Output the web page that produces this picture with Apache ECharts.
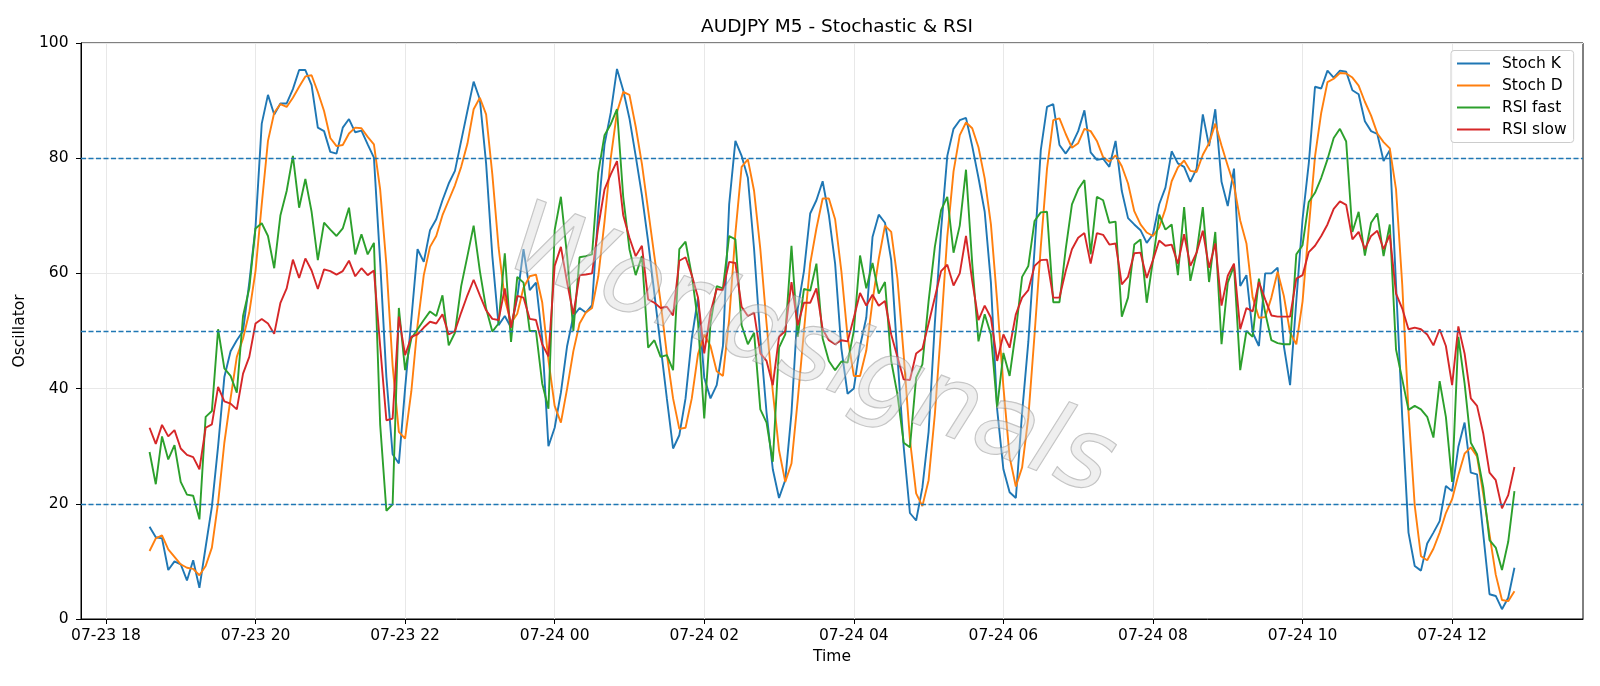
<!DOCTYPE html>
<html>
<head>
<meta charset="utf-8">
<script src="https://cdn.jsdelivr.net/npm/echarts@6/dist/echarts.min.js"></script>
<style>
  html, body { margin: 0; padding: 0; background: #fff; }
  #chart { width: 1600px; height: 686px; }
</style>
</head>
<body>
<div id="chart"></div>
<script>
  // M5 bars from 07-23 18:35 to 07-24 12:50, x in hours since 07-23 00:00
  var startHour = 18 + 35 / 60;
  var stepHour = 5 / 60;
  var tickHours = [18, 20, 22, 24, 26, 28, 30, 32, 34, 36];
  var levels = [80, 50, 20];

  var stochK = [
    16, 14.2, 14, 8.5, 10, 9.5, 6.7, 10.2, 5.4, 12.5, 19.5, 30, 42, 46.5, 48.4, 50, 58.4, 68, 86, 91,
    87.6, 89.5, 89.5, 92, 95.3, 95.3, 92.7, 85.3,
    84.7, 81.1, 80.8, 85.3, 86.8, 84.5, 84.8, 82.4, 80.1, 62, 42, 28.6, 27, 40, 52, 64.2, 62, 67.5, 69.4, 72.7,
    75.6, 77.8, 83, 88.2, 93.3, 90.2, 79.1, 63,
    51, 52.6, 50.6, 55.8, 64.2, 57.1, 58.4, 48.7, 30, 33.2, 39.3, 47.4, 52.6, 54, 53.2, 54.5, 70.7, 82.4, 87.9, 95.5,
    91.8, 86.9, 80.4, 73.6, 65.5, 56.5, 47.4, 38.3,
    29.6, 31.9, 38.3, 48.7, 55.8, 41.9, 38.3, 40.6, 47.4, 72, 83, 80.4, 76.6, 64.2, 48.7, 35.8, 26, 21, 24.1, 35.8,
    53.9, 60.4, 70.4, 72.7, 76, 70.1, 61.7, 47,
    39.1, 40, 47.4, 52.3, 66.3, 70.2, 68.8, 62.3, 45.5, 29.9, 18.4, 17.1, 22.8, 32.5, 51.3, 67.5, 80.4, 85.1, 86.6, 87,
    82.1, 76.6, 70.7, 58.4, 36.4, 26, 22, 21,
    35.8, 48.1, 64.2, 81.4, 88.9, 89.4, 82.3, 80.8, 82.4, 84.7, 88.3, 81, 79.7, 79.9, 78.5, 83, 74.3, 69.6, 68.5, 67.5,
    65.3, 66.8, 72, 74.9, 81.2, 79.1, 78.5, 75.9,
    78.2, 87.6, 82.1, 88.5, 75.9, 71.7, 78.2, 57.8, 59.7, 49.7, 47.4, 60, 60, 61, 47.4, 40.6, 55.2, 69.4, 79.1, 92.4,
    92.1, 95.2, 94, 95.2, 95, 91.8, 91.1, 86.4,
    84.7, 84.2, 79.5, 81.4, 58, 35, 15, 9.2, 8.4, 13.1, 15, 17, 23.1, 22.2, 29.9, 34.1, 25.4, 25.1, 14.7, 4.3,
    4, 1.7, 3.7, 8.9
  ];

  var stochD = [
    11.8, 14, 14.5, 12.1, 10.8, 9.5, 8.9, 8.7, 7.6, 9.2, 12.4, 20.2, 30.6, 38.3, 45.5, 48.7, 53.2, 60.4, 72, 83,
    87.9, 89.4, 88.9, 90.5, 92.4, 94.2, 94.4, 91.5,
    88.2, 83.5, 82.1, 82.3, 84.3, 85.3, 85.2, 83.7, 82.4, 74.6, 61.5, 44, 32.5, 31.3, 39.5, 51, 59.7, 64.6, 66.5, 70.1,
    72.7, 75.3, 78.5, 82.5, 88.5, 90.5, 87.6, 77.2,
    64.5, 55.5, 51.4, 53, 57.5, 59.5, 59.8, 55, 45, 37, 34.1, 40, 46.5, 51.3, 53.2, 54, 59.5, 69, 80, 88,
    91.5, 91, 85.5, 79, 71, 63, 55, 46,
    38.3, 33, 33.2, 38.3, 46, 49.4, 47.4, 43, 42.2, 52, 67, 78.5, 79.8, 74.3, 64.2, 51.3, 39.5, 29.3, 23.8, 27,
    38, 50, 61.7, 67.8, 73, 73, 69.4, 60.4,
    49, 42.2, 42.2, 46.6, 55.2, 62.5, 68.3, 67.2, 59.1, 45.9, 31.2, 21.8, 19.6, 24.1, 35.5, 50.4, 66.4, 77.7, 84, 86.2,
    85.2, 81.9, 76.5, 68.5, 55.2, 40.3, 28.1, 23,
    26.3, 35, 49.4, 64.6, 78.2, 86.6, 86.9, 84.2, 81.8, 82.6, 85.1, 84.7, 83, 80.2, 79.4, 80.5, 78.6, 75.6, 70.8, 68.5,
    67.1, 66.5, 68, 71.2, 76, 78.4, 79.6, 77.8,
    77.6, 80.6, 82.6, 86, 82.2, 78.7, 75.3, 69.2, 65.2, 55.8, 52.3, 52.4, 55.8, 60.3, 56.1, 49.7, 47.7, 55.1, 67.9, 80.3,
    87.9, 93.2, 93.8, 94.8, 94.7, 94, 92.6, 89.8,
    87.4, 84.3, 82.8, 81.7, 74.6, 58, 36, 19.7, 10.9, 10.2, 12.2, 15, 18.4, 20.8, 25, 28.7, 29.8, 28.2, 21.7, 14.7,
    7.7, 3.3, 3.1, 4.8
  ];

  var rsiFast = [
    29, 23.4, 31.7, 27.7, 30.2, 23.8, 21.6, 21.4, 17.3, 35.1, 36.1, 50.3, 43.5, 42.2, 39.3, 52.6, 57.4, 67.8, 68.7, 66.5,
    60.9, 70.1, 74.3, 80.4, 71.4, 76.4, 70.7, 62.3,
    68.8, 67.6, 66.5, 67.8, 71.4, 63.3, 66.8, 63.3, 65.3, 33.8, 18.8, 19.9, 54, 43.2, 48.7, 50.3, 51.9, 53.4, 52.6, 56.2,
    47.5, 49.7, 57.8, 63, 68.3, 60.4, 53.9, 49.9,
    51.3, 63.5, 48.1, 59.4, 58.4, 50, 50, 40.9, 36.5, 67.5, 73.3, 63, 50, 62.8, 63, 63.3, 77.5, 84, 85.9, 88.5,
    73.3, 64.2, 59.7, 63, 47.1, 48.4, 45.5, 45.8,
    43.2, 64.2, 65.5, 59.7, 51.6, 34.8, 51.3, 57.8, 57.4, 66.5, 65.9, 51, 47.7, 49.7, 36.4, 34.1, 27.3, 47.1, 49.4, 64.8,
    49, 57.3, 57, 61.7, 48.7, 44.8, 43.2, 44.7,
    44.5, 50, 63.1, 57.4, 61.8, 56.5, 58.5, 44.8, 39, 30.6, 29.8, 41.9, 44.2, 55.2, 64.6, 71, 73.3, 63.6, 68.3, 78,
    61.7, 48.2, 52.9, 49.4, 36.7, 46.2, 42.2, 50,
    59.4, 61.3, 69.1, 70.6, 70.7, 55, 55, 64.2, 72, 74.6, 76.2, 63.3, 73.3, 72.7, 68.8, 69, 52.5, 55.8, 65, 65.9,
    54.9, 62.3, 70.2, 67.6, 68.5, 59.7, 71.5, 58.7,
    63.6, 71.5, 58.5, 67.2, 47.7, 58.4, 61.3, 43.2, 50, 49, 59.1, 53.2, 48.4, 47.9, 47.7, 47.7, 63.3, 64.9, 72.4, 74,
    76.6, 79.8, 83.5, 85.1, 82.9, 67.2, 70.7, 63.1,
    68.8, 70.4, 63, 68.5, 46.8, 41.6, 36.3, 37, 36.4, 35.1, 31.5, 41.3, 35.1, 23.8, 49, 40.9, 30.6, 28.6, 22.8, 13.7,
    12.4, 8.5, 13.4, 22.2
  ];

  var rsiSlow = [
    33.2, 30.4, 33.7, 31.7, 32.8, 29.6, 28.5, 28.1, 26, 33.2, 33.8, 40.3, 37.8, 37.4, 36.4, 42.6, 45.5, 51.3, 52.1, 51.3,
    49.5, 54.9, 57.4, 62.4, 59.2, 62.6, 60.5, 57.3,
    60.7, 60.4, 59.8, 60.4, 62.2, 59.5, 60.9, 59.7, 60.5, 47.4, 34.5, 34.8, 52.5, 45.8, 49, 49.4, 50.6, 51.6, 51.3, 52.9,
    49.4, 50, 53.2, 56.2, 58.9, 56.2, 53.6, 52.1,
    51.9, 57.4, 50.6, 56.1, 55.8, 52.1, 51.9, 47.7, 45.6, 61.3, 64.6, 58.4, 52.9, 59.7, 59.8, 60, 68.1, 74.6, 77.2, 79.5,
    70.1, 66.2, 63, 64.8, 55.5, 54.9, 54, 54.2,
    52.7, 62.2, 62.8, 59.7, 55.8, 46.1, 53.2, 57.3, 57.1, 62, 61.8, 54.2, 52.6, 53.2, 46.1, 44.8, 40.6, 49, 50, 58.5,
    51, 54.9, 54.9, 57.4, 50.3, 48.4, 47.7, 48.4,
    48.2, 52.3, 56.6, 54.4, 56.3, 54.4, 55.2, 49.4, 45.5, 41.6, 41.5, 46.1, 46.9, 51.3, 55.8, 60.4, 61.5, 57.9, 60, 66.5,
    58.7, 51.9, 54.4, 52.3, 44.8, 49.4, 47.1, 52.9,
    55.8, 57.1, 61.3, 62.3, 62.4, 55.8, 55.8, 60.4, 64.2, 66.2, 67, 61.7, 67, 66.7, 65, 65.2, 58.1, 59.4, 63.5, 63.6,
    59.2, 62.3, 65.7, 64.8, 65, 61.7, 66.8, 61.3,
    63.6, 67.4, 61, 65.2, 54.4, 59.6, 61.7, 50.3, 54, 53.4, 58.5, 55.5, 52.7, 52.5, 52.5, 52.5, 59.1, 59.7, 63.7, 64.8,
    66.5, 68.5, 71.2, 72.5, 71.9, 65.9, 67.2, 64.2,
    66.5, 67.4, 64.2, 66.7, 56.5, 53.9, 50.3, 50.6, 50.3, 49.4, 47.5, 50.3, 47.4, 40.6, 50.8, 46.1, 38.3, 37, 32.2, 25.4,
    24.1, 19.2, 21.5, 26.4
  ];

  var times = stochK.map(function (v, i) { return startHour + i * stepHour; });
  function pairs(arr) {
    return arr.map(function (v, i) { return [times[i], v]; });
  }
  function hourLabel(h) {
    var day = h >= 24 ? '07-24' : '07-23';
    var hh = Math.round(h) % 24;
    return day + ' ' + (hh < 10 ? '0' + hh : '' + hh);
  }

  var font = 'DejaVu Sans';
  var chart = echarts.init(document.getElementById('chart'));

  function lineSeries(name, color, arr) {
    return {
      name: name,
      type: 'line',
      data: pairs(arr),
      showSymbol: false,
      symbol: 'none',
      lineStyle: { color: color, width: 1.9 },
      itemStyle: { color: color },
      z: 3
    };
  }

  var option = {
    backgroundColor: '#fff',
    animation: false,
    textStyle: { fontFamily: font },
    title: {
      text: 'AUDJPY M5 - Stochastic & RSI',
      left: 832,
      textAlign: 'center',
      top: 13,
      textStyle: { fontSize: 18.5, fontWeight: 'normal', color: '#000', fontFamily: font }
    },
    legend: {
      orient: 'vertical',
      left: 1451,
      top: 50.5,
      padding: [5, 7, 5, 6],
      itemGap: 6,
      itemWidth: 33,
      itemHeight: 2,
      icon: 'rect',
      backgroundColor: 'rgba(255,255,255,0.8)',
      borderColor: '#cccccc',
      borderWidth: 1,
      borderRadius: 3,
      textStyle: { fontSize: 15.5, color: '#000', fontFamily: font, lineHeight: 16, padding: [0, 0, 0, 7] },
      data: ['Stoch K', 'Stoch D', 'RSI fast', 'RSI slow']
    },
    grid: {
      left: 81,
      right: 17,
      top: 43,
      bottom: 67,
      show: true,
      borderColor: '#000',
      borderWidth: 1,
      backgroundColor: '#fff'
    },
    xAxis: {
      type: 'value',
      min: 17 + 40 / 60,
      max: 37.75,
      name: 'Time',
      nameLocation: 'middle',
      nameGap: 30,
      nameTextStyle: { fontSize: 15.5, color: '#000', fontFamily: font },
      axisLine: { show: true, lineStyle: { color: '#000', width: 1 } },
      axisTick: { show: true, length: 5, lineStyle: { color: '#000' }, customValues: tickHours },
      axisLabel: {
        customValues: tickHours,
        margin: 9,
        fontSize: 15.5,
        color: '#000',
        fontFamily: font,
        formatter: function (v) { return hourLabel(v); }
      },
      splitLine: { show: true, lineStyle: { color: '#e8e8e8', width: 1 } }
    },
    yAxis: {
      type: 'value',
      min: 0,
      max: 100,
      interval: 20,
      name: 'Oscillator',
      nameLocation: 'middle',
      nameGap: 49,
      nameRotate: 90,
      nameTextStyle: { fontSize: 15.5, color: '#000', fontFamily: font },
      axisLine: { show: true, lineStyle: { color: '#000', width: 1 } },
      axisTick: { show: true, length: 5, lineStyle: { color: '#000' } },
      axisLabel: { margin: 12.5, fontSize: 15.5, color: '#000', fontFamily: font },
      splitLine: { show: true, lineStyle: { color: '#e8e8e8', width: 1 } }
    },
    graphic: [{
      type: 'text',
      x: 810,
      y: 355,
      rotation: -0.37,
      z: 100,
      silent: true,
      style: {
        text: 'Worldsignals',
        x: 0,
        y: 0,
        align: 'center',
        verticalAlign: 'middle',
        font: 'italic 100px "DejaVu Sans"',
        fill: 'rgba(215,215,215,0.4)',
        stroke: 'rgba(120,120,120,0.45)',
        lineWidth: 1.2,
        shadowColor: 'rgba(0,0,0,0.2)',
        shadowOffsetX: 3,
        shadowOffsetY: 3,
        shadowBlur: 2
      }
    }],
    series: [
      lineSeries('Stoch K', '#1f77b4', stochK),
      lineSeries('Stoch D', '#ff7f0e', stochD),
      lineSeries('RSI fast', '#2ca02c', rsiFast),
      lineSeries('RSI slow', '#d62728', rsiSlow),
      {
        name: 'levels',
        type: 'line',
        data: [],
        z: 4,
        markLine: {
          silent: true,
          symbol: ['none', 'none'],
          label: { show: false },
          lineStyle: { color: '#1f77b4', type: [5, 2.5], width: 1.3 },
          data: levels.map(function (v) { return { yAxis: v }; })
        }
      }
    ]
  };

  chart.setOption(option);
</script>
</body>
</html>
